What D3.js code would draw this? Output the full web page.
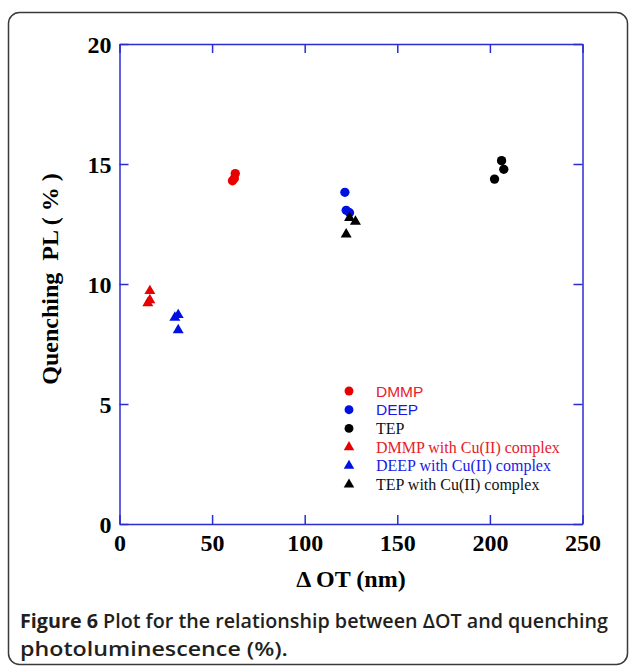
<!DOCTYPE html>
<html>
<head>
<meta charset="utf-8">
<script src="https://cdn.jsdelivr.net/npm/d3@7"></script>
<style>
  html, body { margin: 0; padding: 0; background: #fff; }
  svg { display: block; }
</style>
</head>
<body>
<svg id="chart" width="629" height="667"></svg>
<script>
// ---- data ----
const seriesNames = ["DMMP", "DEEP", "TEP", "DMMP with Cu(II) complex", "DEEP with Cu(II) complex", "TEP with Cu(II) complex"];
const dmmpX = [61, 62.5, 62];
const dmmpY = [14.3, 14.6, 14.4];
const deepX = [121.7, 122.4, 124.2];
const deepY = [13.82, 13.07, 12.97];
const tepX = [206.3, 207.5, 202.5];
const tepY = [15.14, 14.78, 14.37];
const dmmpCuX = [16.4, 16.4, 15.3];
const dmmpCuY = [9.71, 9.33, 9.2];
const deepCuX = [31.7, 29.9, 31.7];
const deepCuY = [8.71, 8.6, 8.08];
const tepCuX = [124.2, 127.4, 122.4];
const tepCuY = [12.76, 12.6, 12.07];
const xTicks = [0, 50, 100, 150, 200, 250];
const yTicks = [0, 5, 10, 15, 20];

(function () {
const seriesX = [dmmpX, deepX, tepX, dmmpCuX, deepCuX, tepCuX];
const seriesY = [dmmpY, deepY, tepY, dmmpCuY, deepCuY, tepCuY];
const colors = ["#e80000", "#0010e0", "#000000", "#e80000", "#0010e0", "#000000"];
const textColors = ["#e8202a", "#1a1ae6", "#111111", "#e8202a", "#1a1ae6", "#111111"];
const shapes = [d3.symbolCircle, d3.symbolCircle, d3.symbolCircle, d3.symbolTriangle, d3.symbolTriangle, d3.symbolTriangle];
const sans = "'Liberation Sans', Arial, sans-serif";
const serif = "'Liberation Serif', 'Times New Roman', serif";
const legendFonts = [sans, sans, serif, serif, serif, serif];

const svg = d3.select("#chart");
const axisColor = "#2b2bd6";

// panel border
svg.append("rect")
  .attr("x", 8.5).attr("y", 12.5)
  .attr("width", 619).attr("height", 652)
  .attr("rx", 11).attr("ry", 11)
  .attr("fill", "none").attr("stroke", "#3a3a3a").attr("stroke-width", 1.5);

const pLeft = 119.5, pRight = 582.5, pTop = 44, pBottom = 524;
const x = d3.scaleLinear().domain([0, 250]).range([pLeft, pRight]);
const y = d3.scaleLinear().domain([0, 20]).range([pBottom, pTop]);

function styleAxis(g) {
  g.selectAll("path.domain").attr("stroke", axisColor).attr("stroke-width", 1.5);
  g.selectAll(".tick line").attr("stroke", axisColor).attr("stroke-width", 1.5);
}

// bottom axis with labels
const gx = svg.append("g").attr("transform", `translate(0,${pBottom})`)
  .call(d3.axisBottom(x).tickValues(xTicks).tickSize(-9).tickSizeOuter(0).tickPadding(10).tickFormat(d3.format("d")));
styleAxis(gx);
gx.selectAll(".tick text").attr("font-family", serif).attr("font-weight", "bold")
  .attr("font-size", 24).attr("fill", "#000").attr("dy", "0.71em");

// top axis
const gt = svg.append("g").attr("transform", `translate(0,${pTop})`)
  .call(d3.axisTop(x).tickValues(xTicks).tickSize(-9).tickSizeOuter(0).tickFormat(""));
styleAxis(gt);

// left axis with labels
const gy = svg.append("g").attr("transform", `translate(${pLeft},0)`)
  .call(d3.axisLeft(y).tickValues(yTicks).tickSize(-9).tickSizeOuter(0).tickPadding(8).tickFormat(d3.format("d")));
styleAxis(gy);
gy.selectAll(".tick text").attr("font-family", serif).attr("font-weight", "bold")
  .attr("font-size", 24).attr("fill", "#000").attr("dy", "0.34em");

// right axis
const gr = svg.append("g").attr("transform", `translate(${pRight},0)`)
  .call(d3.axisRight(y).tickValues(yTicks).tickSize(-9).tickSizeOuter(0).tickFormat(""));
styleAxis(gr);

// axis titles
svg.append("text")
  .attr("x", (pLeft + pRight) / 2).attr("y", 587)
  .attr("text-anchor", "middle")
  .attr("font-family", serif).attr("font-weight", "bold").attr("font-size", 24)
  .text("\u0394 OT (nm)");

svg.append("text")
  .attr("transform", `translate(58,279) rotate(-90)`)
  .attr("text-anchor", "middle")
  .attr("font-family", serif).attr("font-weight", "bold").attr("font-size", 24)
  .style("white-space", "pre")
  .text("Quenching  PL ( % )");

// points
seriesX.forEach((xs, i) => {
  const pts = xs.map((v, j) => [v, seriesY[i][j]]);
  svg.append("g").selectAll("path").data(pts).enter().append("path")
    .attr("transform", d => `translate(${x(d[0])},${y(d[1])})`)
    .attr("d", d3.symbol().type(shapes[i]).size(i < 3 ? 68 : 52)())
    .attr("fill", colors[i]);
});

// legend
const legX = 349, legTextX = 376, legY0 = 391, legStep = 18.7;
seriesNames.forEach((name, i) => {
  const yy = legY0 + i * legStep;
  svg.append("path")
    .attr("transform", `translate(${legX},${yy})`)
    .attr("d", d3.symbol().type(shapes[i]).size(i < 3 ? 62 : 48)())
    .attr("fill", colors[i]);
  svg.append("text")
    .attr("x", legTextX).attr("y", yy + 5.5)
    .attr("font-family", legendFonts[i]).attr("font-size", i < 2 ? 15.5 : 16)
    .attr("fill", textColors[i])
    .text(name);
});

// caption
const capFont = "'Open Sans', 'Noto Sans', sans-serif";
const cap = svg.append("text").attr("x", 20).attr("y", 628)
  .attr("font-family", capFont).attr("font-size", 19.2).attr("font-weight", 600).attr("fill", "#231f20")
  .attr("textLength", 588).attr("lengthAdjust", "spacingAndGlyphs");
cap.append("tspan").attr("font-weight", 700).text("Figure 6");
cap.append("tspan").text(" Plot for the relationship between \u0394OT and quenching");
svg.append("text").attr("x", 20).attr("y", 656)
  .attr("font-family", capFont).attr("font-size", 19.2).attr("font-weight", 600).attr("fill", "#231f20")
  .attr("textLength", 268).attr("lengthAdjust", "spacingAndGlyphs")
  .text("photoluminescence (%).");
})();
</script>
</body>
</html>
